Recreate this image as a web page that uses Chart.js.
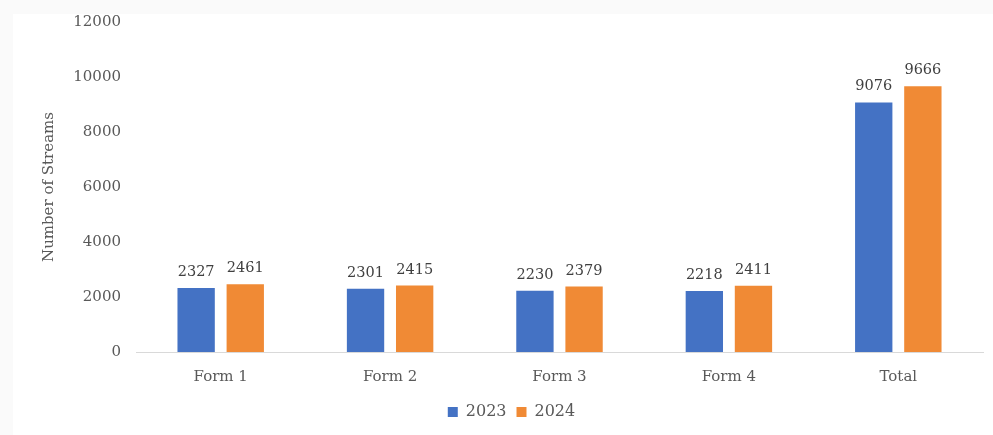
<!DOCTYPE html>
<html>
<head>
<meta charset="utf-8">
<script src="https://cdn.jsdelivr.net/npm/chart.js@4.4.1/dist/chart.umd.min.js"></script>
<style>
  html, body { margin: 0; padding: 0; background: #fafafa; }
  canvas { display: block; }
</style>
</head>
<body>
<canvas id="streamsChart" width="993" height="435"></canvas>
<script>
// Streams per form, two years
const categories = ['Form 1', 'Form 2', 'Form 3', 'Form 4', 'Total'];
const streams2023 = [2327, 2301, 2230, 2218, 9076];
const streams2024 = [2461, 2415, 2379, 2411, 9666];
const yTicks = [0, 2000, 4000, 6000, 8000, 10000, 12000];

const serif = "'DejaVu Serif', 'Liberation Serif', serif";

// white panel behind the chart, leaving a thin grey margin top and left
const panel = {
    id: 'panel',
    beforeDraw(chart) {
        const ctx = chart.ctx;
        ctx.save();
        ctx.fillStyle = '#fafafa';
        ctx.fillRect(0, 0, chart.width, chart.height);
        ctx.fillStyle = '#ffffff';
        ctx.fillRect(13, 14, chart.width - 13, chart.height - 14);
        ctx.restore();
    },
    // legend sits a little right of the canvas centre
    afterLayout(chart) {
        chart.legend.left += 20;
        chart.legend.right += 20;
    }
};

// value labels above each bar
const barLabels = {
    id: 'barLabels',
    afterDatasetsDraw(chart) {
        const ctx = chart.ctx;
        ctx.save();
        ctx.font = '14.5px ' + serif;
        ctx.fillStyle = '#404040';
        ctx.textAlign = 'center';
        ctx.textBaseline = 'alphabetic';
        chart.data.datasets.forEach((ds, i) => {
            chart.getDatasetMeta(i).data.forEach((bar, j) => {
                ctx.fillText(ds.data[j], bar.x, bar.y - 12);
            });
        });
        ctx.restore();
    }
};

new Chart(document.getElementById('streamsChart'), {
    type: 'bar',
    data: {
        labels: categories,
        datasets: [
            { label: '2023', data: streams2023, backgroundColor: '#4472C4' },
            { label: '2024', data: streams2024, backgroundColor: '#F08A35' }
        ]
    },
    options: {
        responsive: false,
        animation: false,
        categoryPercentage: 0.58,
        barPercentage: 0.76,
        layout: { padding: { top: 0, right: 10, bottom: 5, left: 0 } },
        plugins: {
            legend: {
                position: 'bottom',
                labels: {
                    boxWidth: 10,
                    boxHeight: 10,
                    padding: 10,
                    color: '#595959',
                    font: { family: serif, size: 16 }
                }
            },
            tooltip: { enabled: false }
        },
        scales: {
            x: {
                grid: { display: false, drawTicks: false },
                border: { color: '#d9d9d9', width: 1 },
                ticks: { color: '#595959', padding: 16, font: { family: serif, size: 15 } },
                afterFit(scale) { scale.height = 42; }
            },
            y: {
                min: 0,
                max: 12000,
                afterBuildTicks(scale) { scale.ticks = yTicks.map(v => ({ value: v })); },
                grid: { display: false, drawTicks: false },
                border: { display: false },
                ticks: {
                    color: '#595959',
                    padding: 15,
                    font: { family: serif, size: 15 },
                    callback: v => String(v)
                },
                title: {
                    display: true,
                    text: 'Number of Streams',
                    color: '#595959',
                    padding: { top: 40, bottom: 4 },
                    font: { family: serif, size: 15 }
                },
                afterFit(scale) {
                    scale.width = 136;
                    scale.paddingTop = 22;
                }
            }
        }
    },
    plugins: [panel, barLabels]
});
</script>
</body>
</html>
